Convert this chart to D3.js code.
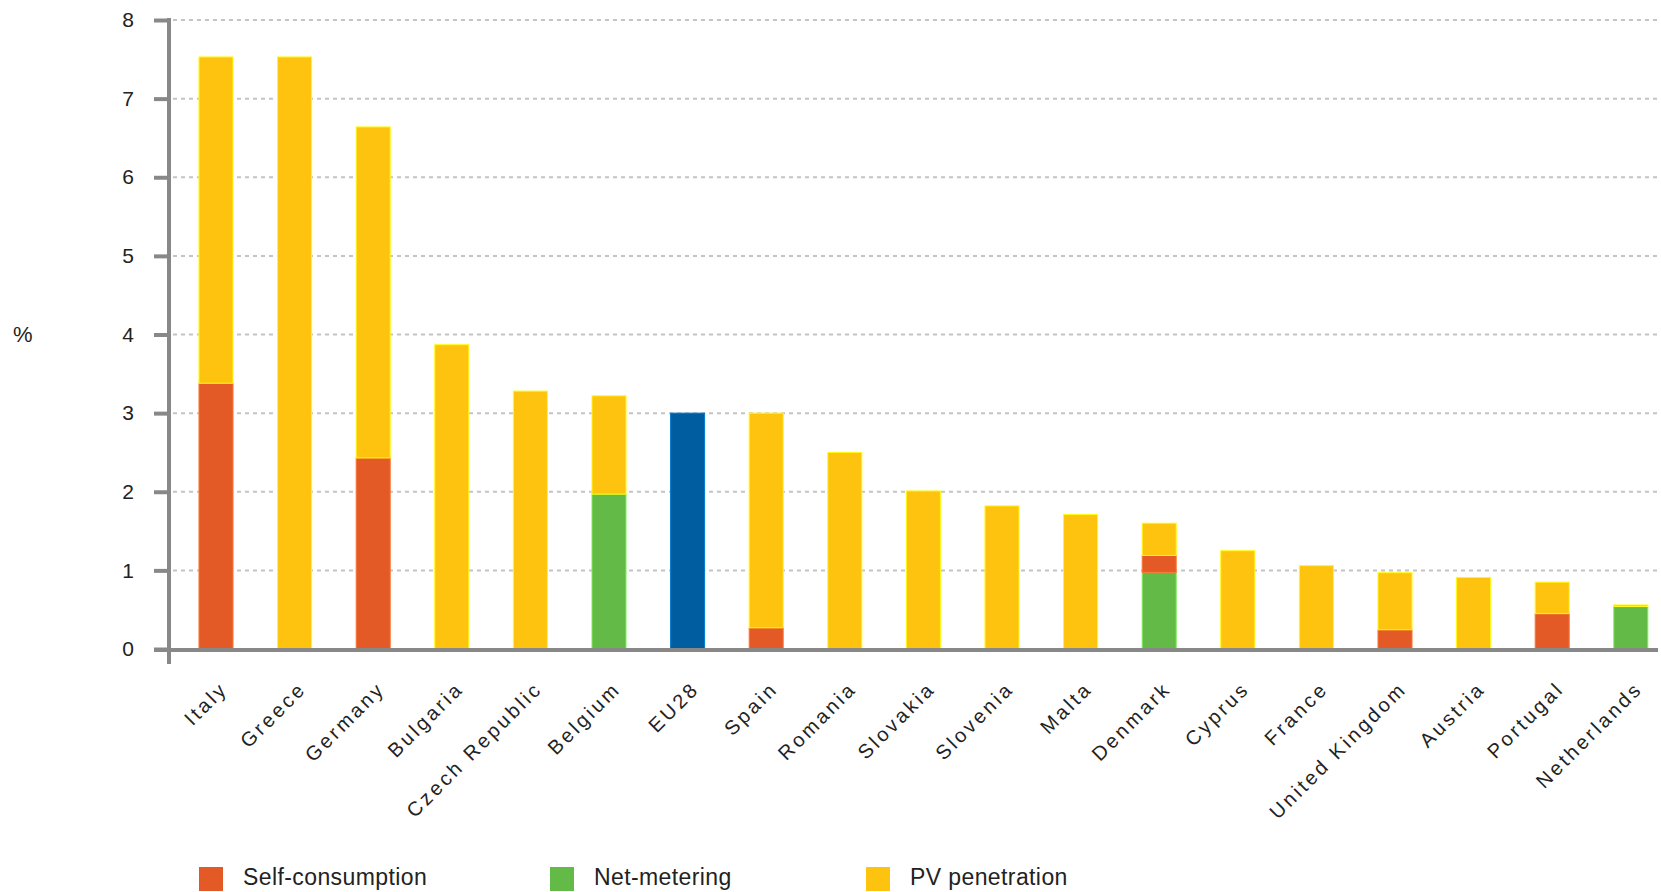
<!DOCTYPE html>
<html>
<head>
<meta charset="utf-8">
<script src="https://d3js.org/d3.v7.min.js"></script>
<style>
  body { margin: 0; background: #fff; }
  text { font-family: "Liberation Sans", Arial, sans-serif; fill: #222; }
</style>
</head>
<body>
<script>
// Chart data
var countries = ["Italy", "Greece", "Germany", "Bulgaria", "Czech Republic", "Belgium", "EU28",
  "Spain", "Romania", "Slovakia", "Slovenia", "Malta", "Denmark", "Cyprus", "France",
  "United Kingdom", "Austria", "Portugal", "Netherlands"];

// total PV penetration (height of each bar)
var pvPenetration = [7.53, 7.53, 6.64, 3.87, 3.28, 3.22, 3.0, 3.0, 2.5, 2.01, 1.82, 1.71,
  1.6, 1.25, 1.06, 0.97, 0.91, 0.85, 0.56];
// part of the bar shown as self-consumption
var selfConsumption = [3.38, 0, 2.43, 0, 0, 0, 0, 0.27, 0, 0, 0, 0,
  0.215, 0, 0, 0.245, 0, 0.45, 0];
// part of the bar shown as net-metering
var netMetering = [0, 0, 0, 0, 0, 1.97, 0, 0, 0, 0, 0, 0,
  0.975, 0, 0, 0, 0, 0, 0.54];

var seriesLabels = ["Self-consumption", "Net-metering", "PV penetration"];
var seriesColors = ["#e45a27", "#63ba46", "#fdc30f"];
var highlightCountry = "EU28";
var highlightColor = "#005ea0";
var yTicks = [0, 1, 2, 3, 4, 5, 6, 7, 8];
var yLabel = "%";

// SVG area
var svgWidth = 1661;
var svgHeight = 892;

var svg = d3.select("body")
  .append("svg")
  .attr("width", svgWidth)
  .attr("height", svgHeight);

// Plot area (pixels)
var axisX = 169;
var plotRight = 1658;
var plotTop = 20;
var plotBottom = 649;

// Scales
var step = 78.6;
var xScale = d3.scaleBand()
  .domain(countries)
  .range([216 - step / 2, 216 + (countries.length - 1) * step + step / 2])
  .paddingInner(0.567)
  .paddingOuter(0.2835);

var yScale = d3.scaleLinear()
  .domain([0, 8])
  .range([plotBottom, plotTop]);

// Build rows for stacking: net-metering at bottom, then self-consumption, then rest of PV
var rows = countries.map(function(c, i) {
  return {
    country: c,
    net: netMetering[i],
    self: selfConsumption[i],
    pvRest: pvPenetration[i] - netMetering[i] - selfConsumption[i]
  };
});

var keys = ["net", "self", "pvRest"];
var keyColor = { net: seriesColors[1], self: seriesColors[0], pvRest: seriesColors[2] };
var stacked = d3.stack().keys(keys)(rows);

// Gridlines
svg.append("g")
  .selectAll("line")
  .data(yTicks.filter(function(t) { return t > 0; }))
  .enter()
  .append("line")
  .attr("x1", axisX + 4)
  .attr("x2", plotRight)
  .attr("y1", function(d) { return yScale(d); })
  .attr("y2", function(d) { return yScale(d); })
  .attr("stroke", "#c4c4c4")
  .attr("stroke-width", 2)
  .attr("stroke-dasharray", "4,4");

// Bars
var barGroup = svg.append("g");
stacked.forEach(function(layer) {
  barGroup.append("g")
    .selectAll("rect")
    .data(layer.filter(function(d) { return d[1] - d[0] > 0; }))
    .enter()
    .append("rect")
    .attr("x", function(d) { return xScale(d.data.country); })
    .attr("width", xScale.bandwidth())
    .attr("y", function(d) { return yScale(d[1]); })
    .attr("height", function(d) { return yScale(d[0]) - yScale(d[1]); })
    .attr("fill", function(d) {
      return d.data.country === highlightCountry ? highlightColor : keyColor[layer.key];
    })
    .attr("stroke", function(d) {
      var c = d.data.country === highlightCountry ? highlightColor : keyColor[layer.key];
      return d3.color(c).brighter(0.7);
    })
    .attr("stroke-width", 1);
});

// Left axis
var leftAxis = d3.axisLeft(yScale)
  .tickValues(yTicks)
  .tickSize(15)
  .tickSizeOuter(0)
  .tickPadding(20);

var yAxisGroup = svg.append("g")
  .attr("transform", "translate(" + axisX + ",0)")
  .call(leftAxis);
yAxisGroup.select(".domain").remove();
yAxisGroup.selectAll(".tick line")
  .attr("stroke", "#888")
  .attr("stroke-width", 4);
yAxisGroup.selectAll(".tick text")
  .attr("font-size", 21)
  .attr("fill", "#222")
  .style("font-family", "'Liberation Sans', Arial, sans-serif");

// y axis line, runs a little below the x axis
svg.append("line")
  .attr("x1", axisX)
  .attr("x2", axisX)
  .attr("y1", yScale(8) - 2)
  .attr("y2", yScale(0) + 15)
  .attr("stroke", "#888")
  .attr("stroke-width", 4);

// x axis line
svg.append("line")
  .attr("x1", axisX - 15)
  .attr("x2", plotRight)
  .attr("y1", yScale(0) + 1)
  .attr("y2", yScale(0) + 1)
  .attr("stroke", "#888")
  .attr("stroke-width", 4);

// Country labels (rotated)
var bottomAxis = d3.axisBottom(xScale).tickSize(0).tickSizeOuter(0);
var xAxisGroup = svg.append("g")
  .attr("transform", "translate(0," + plotBottom + ")")
  .call(bottomAxis);
xAxisGroup.select(".domain").remove();
xAxisGroup.selectAll(".tick text")
  .attr("font-size", 20)
  .attr("fill", "#222")
  .style("font-family", "'Liberation Sans', Arial, sans-serif")
  .style("letter-spacing", "3px")
  .attr("text-anchor", "end")
  .attr("dy", null)
  .attr("y", 0)
  .attr("transform", "translate(13,41) rotate(-45)");

// y label
svg.append("text")
  .attr("x", 13)
  .attr("y", yScale(4) + 7)
  .attr("font-size", 22)
  .text(yLabel);

// Legend
var legendX = [199, 550, 866];
var legend = svg.append("g");
seriesLabels.forEach(function(label, i) {
  legend.append("rect")
    .attr("x", legendX[i])
    .attr("y", 867)
    .attr("width", 24)
    .attr("height", 24)
    .attr("fill", seriesColors[i]);
  legend.append("text")
    .attr("x", legendX[i] + 44)
    .attr("y", 885)
    .attr("font-size", 23)
    .style("letter-spacing", "0.4px")
    .text(label);
});
</script>
</body>
</html>
